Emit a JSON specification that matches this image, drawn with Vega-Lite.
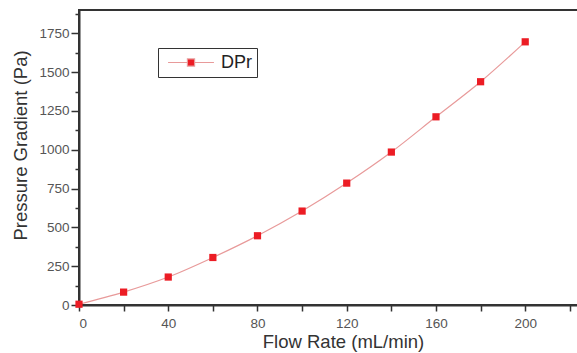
{
  "$schema": "https://vega.github.io/schema/vega-lite/v6.json",
  "autosize": "none",
  "width": 502,
  "height": 295,
  "padding": {"left": 79, "top": 10, "right": 0, "bottom": 48},
  "background": "white",
  "config": {
    "view": {"stroke": "#333", "strokeWidth": 2},
    "font": "Liberation Sans",
    "axis": {
      "domainColor": "#333",
      "domainWidth": 2,
      "tickColor": "#333",
      "tickWidth": 1.5,
      "grid": false,
      "labelColor": "#555",
      "labelFontSize": 13.5,
      "titleColor": "#333",
      "titleFontSize": 18.5,
      "titleFontWeight": "normal"
    }
  },
  "data": {
    "values": [
      {"flow": 0, "dp": 5, "series": "DPr"},
      {"flow": 20, "dp": 83, "series": "DPr"},
      {"flow": 40, "dp": 180, "series": "DPr"},
      {"flow": 60, "dp": 306, "series": "DPr"},
      {"flow": 80, "dp": 446, "series": "DPr"},
      {"flow": 100, "dp": 605, "series": "DPr"},
      {"flow": 120, "dp": 785, "series": "DPr"},
      {"flow": 140, "dp": 985, "series": "DPr"},
      {"flow": 160, "dp": 1212, "series": "DPr"},
      {"flow": 180, "dp": 1438, "series": "DPr"},
      {"flow": 200, "dp": 1695, "series": "DPr"}
    ]
  },
  "encoding": {
    "x": {
      "field": "flow",
      "type": "quantitative",
      "scale": {"domain": [0, 225], "nice": false, "zero": true},
      "axis": {
        "title": "Flow Rate (mL/min)",
        "titleX": 264,
        "values": [0, 20, 40, 60, 80, 100, 120, 140, 160, 180, 200, 220],
        "labelExpr": "datum.value % 40 === 0 ? datum.label : ''",
        "tickSize": 6,
        "labelPadding": 5,
        "titlePadding": 3
      }
    },
    "y": {
      "field": "dp",
      "type": "quantitative",
      "scale": {"domain": [0, 1900], "nice": false},
      "axis": {
        "title": "Pressure Gradient (Pa)",
        "titleY": 135,
        "values": [0, 125, 250, 375, 500, 625, 750, 875, 1000, 1125, 1250, 1375, 1500, 1625, 1750, 1875],
        "labelExpr": "datum.value % 250 === 0 ? datum.label : ''",
        "format": "d",
        "tickSize": {"condition": {"test": "datum.value % 250 === 0", "value": 8}, "value": 4},
        "labelPadding": 2,
        "titlePadding": 8
      }
    }
  },
  "layer": [
    {
      "mark": {"type": "line", "color": "#e89a9a", "strokeWidth": 1.2, "interpolate": "monotone"}
    },
    {
      "mark": {"type": "point", "shape": "square", "filled": true, "size": 52, "opacity": 1},
      "encoding": {
        "color": {
          "field": "series",
          "type": "nominal",
          "scale": {"range": ["#ec1c24"]},
          "legend": {
            "title": null,
            "orient": "none",
            "legendX": 79,
            "legendY": 38,
            "strokeColor": "#333",
            "padding": 5,
            "symbolType": "M-2.7,0H-0.42M0.42,0H2.7M-0.42,-0.42H0.42V0.42H-0.42Z",
            "symbolSize": 289,
            "symbolOffset": 18.5,
            "symbolStrokeColor": "#e89a9a",
            "symbolStrokeWidth": 1.2,
            "symbolFillColor": "#ec1c24",
            "labelFontSize": 18,
            "labelColor": "#222",
            "labelOffset": 20.5
          }
        }
      }
    }
  ]
}
